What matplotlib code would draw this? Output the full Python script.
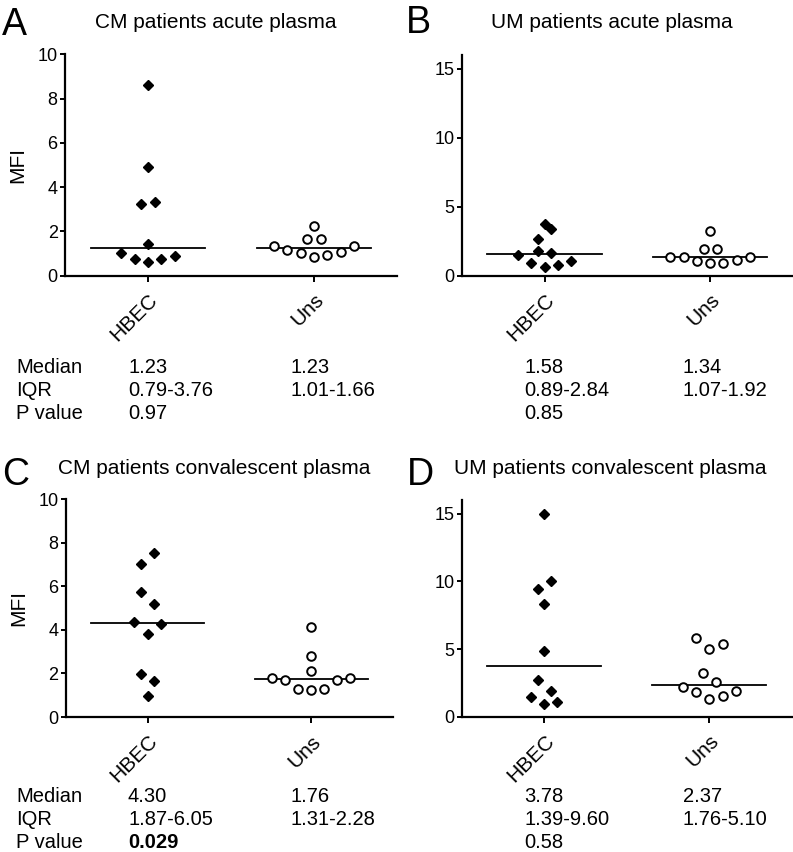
import numpy as np
import matplotlib
matplotlib.use("Agg")
import matplotlib.pyplot as plt

plt.rcParams["font.family"] = ["Liberation Sans", "DejaVu Sans"]

# data (MFI per patient), listed in the order the points appear in each row
groups = ["HBEC", "Uns"]

cm_acute_hbec = [0.63, 0.77, 0.77, 0.90, 1.04, 1.42, 3.24, 3.34, 4.92, 8.61]
cm_acute_uns = [0.83, 0.93, 1.01, 1.05, 1.14, 1.32, 1.36, 1.67, 1.64, 2.26]

um_acute_hbec = [0.63, 0.75, 0.94, 1.04, 1.50, 1.81, 1.66, 2.64, 3.41, 3.73]
um_acute_uns = [0.90, 0.94, 1.10, 1.11, 1.33, 1.35, 1.38, 1.94, 1.91, 3.27]

cm_conv_hbec = [0.98, 1.95, 1.63, 3.80, 4.26, 4.34, 5.73, 5.18, 7.02, 7.54]
cm_conv_uns = [1.25, 1.30, 1.30, 1.69, 1.72, 1.79, 1.80, 2.12, 2.78, 4.12]

um_conv_hbec = [0.92, 1.08, 1.49, 2.70, 1.92, 4.86, 8.33, 9.45, 10.0, 15.0]
um_conv_uns = [1.28, 1.55, 1.80, 1.87, 2.18, 3.25, 2.56, 4.99, 5.39, 5.79]

titles = ["CM patients acute plasma", "UM patients acute plasma",
          "CM patients convalescent plasma", "UM patients convalescent plasma"]
letters = ["A", "B", "C", "D"]

stat_names = ["Median", "IQR", "P value"]
medians_txt = [["1.23", "1.23"], ["1.58", "1.34"], ["4.30", "1.76"], ["3.78", "2.37"]]
iqr_txt = [["0.79-3.76", "1.01-1.66"], ["0.89-2.84", "1.07-1.92"],
           ["1.87-6.05", "1.31-2.28"], ["1.39-9.60", "1.76-5.10"]]
pvals_txt = ["0.97", "0.85", "0.029", "0.58"]

W, H = 793, 852
fig = plt.figure(figsize=(W / 100, H / 100), dpi=100)


def add_axes_px(left, top, right, bottom):
    return fig.add_axes([left / W, 1 - bottom / H, (right - left) / W, (bottom - top) / H])


def swarm(ax, values, step=0.08, thr_px=12.9):
    # group points into rows of similar height, spread each row symmetrically
    values = np.asarray(values)
    y0, y1 = ax.get_ylim()
    ppu = ax.get_position().height * H / (y1 - y0)
    order = np.argsort(values, kind="stable")
    rows, cur, start = [], [order[0]], values[order[0]]
    for i in order[1:]:
        if (values[i] - start) * ppu < thr_px:
            cur.append(i)
        else:
            rows.append(cur)
            cur, start = [i], values[i]
    rows.append(cur)
    offs = np.zeros(len(values))
    for row in rows:
        row = sorted(row)
        n = len(row)
        if n % 2:
            slots = [0] + [s * k for k in range(1, n // 2 + 1) for s in (1, -1)]
        else:
            slots = [s * (k + 0.5) for k in range(n // 2) for s in (-1, 1)]
        for idx, sl in zip(row, slots):
            offs[idx] = sl * step
    return offs


def panel(ax, hbec, uns, ymax, yticks, ylabel):
    ax.set_xlim(-0.5, 1.5)
    ax.set_ylim(0, ymax)
    for sp in ["top", "right"]:
        ax.spines[sp].set_visible(False)
    for sp in ["left", "bottom"]:
        ax.spines[sp].set_linewidth(1.6)
    ax.set_yticks(yticks)
    ax.set_xticks([0, 1])
    ax.set_xticklabels(groups, rotation=45, ha="right", rotation_mode="anchor", fontsize=15)
    ax.tick_params(axis="y", length=3.8, width=1.4, labelsize=13, pad=1.5)
    ax.tick_params(axis="x", length=4.5, width=1.4, pad=6)

    xh = 0 + swarm(ax, hbec)
    ax.plot(xh, hbec, "D", color="black", ms=4.6, clip_on=False, zorder=3)
    xu = 1 + swarm(ax, uns)
    ax.plot(xu, uns, "o", mfc="white", mec="black", mew=1.4, ms=6.2, clip_on=False, zorder=3)

    for x, vals in [(0, hbec), (1, uns)]:
        m = np.median(vals)
        ax.plot([x - 0.345, x + 0.345], [m, m], color="black", lw=1.3, zorder=2)

    if ylabel:
        ax.set_ylabel("MFI", fontsize=15)
        ax.yaxis.set_label_coords(-0.115, 0.5)


axA = add_axes_px(65, 54.3, 397, 275.7)
axB = add_axes_px(461.7, 55.2, 793, 275.7)
axC = add_axes_px(65.7, 499, 393, 717)
axD = add_axes_px(461.7, 500.2, 792, 716.7)

panel(axA, cm_acute_hbec, cm_acute_uns, 10, [0, 2, 4, 6, 8, 10], True)
panel(axB, um_acute_hbec, um_acute_uns, 16, [0, 5, 10, 15], False)
panel(axC, cm_conv_hbec, cm_conv_uns, 10, [0, 2, 4, 6, 8, 10], True)
panel(axD, um_conv_hbec, um_conv_uns, 16, [0, 5, 10, 15], False)

# panel letters and titles
letter_pos = [(2, 35), (406, 33), (2, 485), (407, 485)]
title_pos = [(216, 28.5), (612, 28.5), (214, 473.5), (610, 474)]
for k in range(4):
    lx, ly = letter_pos[k]
    fig.text(lx / W, 1 - ly / H, letters[k], fontsize=27, va="baseline", ha="left")
    tx, ty = title_pos[k]
    fig.text(tx / W, 1 - ty / H, titles[k], fontsize=15, va="baseline", ha="center")

# statistics table under each row of panels
label_x = 16
col_x = [[128, 291], [524, 683]]
row_base = [[372.7, 396, 419.3], [802, 825, 848]]
for r in range(2):
    ys = row_base[r]
    for name, y in zip(stat_names, ys):
        fig.text(label_x / W, 1 - y / H, name, fontsize=14.5, va="baseline")
    for c in range(2):
        k = 2 * r + c
        for g in range(2):
            x = col_x[c][g] / W
            fig.text(x, 1 - ys[0] / H, medians_txt[k][g], fontsize=14.5, va="baseline")
            fig.text(x, 1 - ys[1] / H, iqr_txt[k][g], fontsize=14.5, va="baseline")
        bold = "bold" if float(pvals_txt[k]) < 0.05 else "normal"
        fig.text(col_x[c][0] / W, 1 - ys[2] / H, pvals_txt[k], fontsize=14.5,
                 va="baseline", fontweight=bold)

fig.savefig("out.png", dpi=100)
